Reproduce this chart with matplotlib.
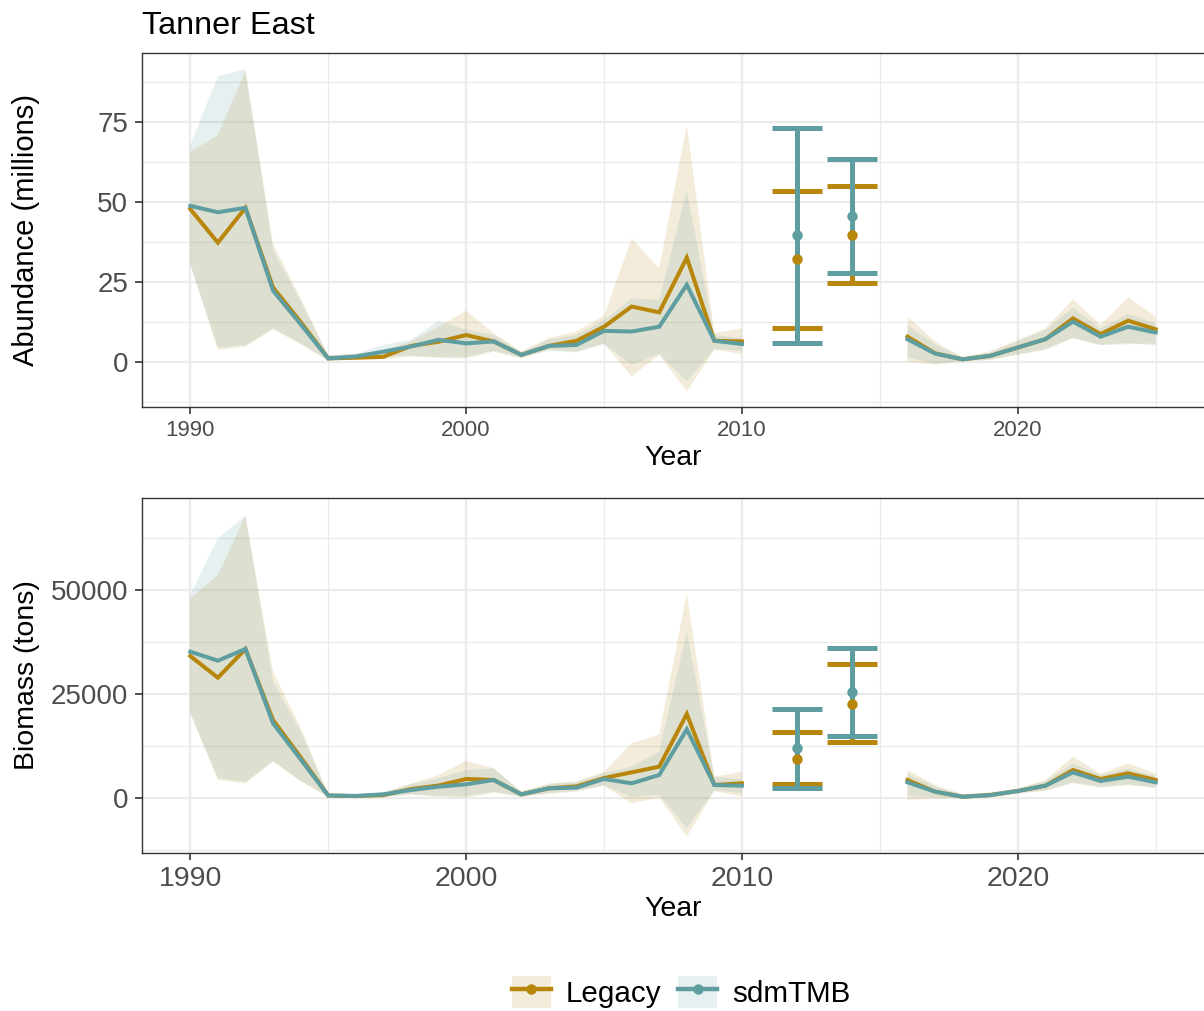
import numpy as np
import matplotlib
matplotlib.use("Agg")
import matplotlib.pyplot as plt
from matplotlib.lines import Line2D
from matplotlib.patches import Patch
from matplotlib.legend_handler import HandlerTuple

plt.rcParams['font.family'] = ['Liberation Sans', 'DejaVu Sans']

nan = np.nan
years = np.arange(1990, 2026)

# ---- Abundance (millions) ----
abund_legacy = [47.8, 37.3, 48.2, 23.3, 12.5, 1.1, 1.3, 1.6, 5.0, 6.3, 8.4, 6.4, 2.2, 5.0, 6.6, 11.0, 17.3, 15.5, 32.6, 6.6, 6.4,
                nan, nan, nan, nan, nan,
                7.9, 2.7, 0.8, 1.9, 4.5, 7.1, 13.6, 8.7, 12.9, 10.2]
abund_legacy_hi = [65.7, 71.0, 91.0, 37.0, 20.0, 2.0, 2.5, 3.5, 6.5, 11.0, 16.0, 9.0, 3.3, 7.5, 9.5, 14.5, 38.6, 29.3, 74.1, 9.0, 10.5,
                   nan, nan, nan, nan, nan,
                   14.2, 6.4, 1.5, 3.3, 6.9, 10.5, 19.6, 11.6, 20.2, 14.2]
abund_legacy_lo = [30.3, 3.8, 4.8, 10.2, 5.5, 0.5, 0.8, 0.8, 1.7, 1.2, 1.1, 3.2, 1.1, 3.8, 3.2, 5.8, -4.6, 2.2, -9.3, 3.8, 2.5,
                   nan, nan, nan, nan, nan,
                   0.1, -0.9, 0.2, 0.6, 2.2, 3.8, 7.4, 5.3, 5.5, 5.8]
abund_sdm = [48.8, 46.8, 48.2, 22.3, 11.8, 1.1, 1.7, 3.2, 4.8, 6.9, 5.8, 6.4, 2.2, 5.0, 5.3, 9.7, 9.5, 11.0, 24.1, 6.6, 5.6,
             nan, nan, nan, nan, nan,
             7.1, 2.6, 0.8, 1.9, 4.5, 7.1, 12.6, 7.9, 11.0, 9.2]
abund_sdm_hi = [67.8, 89.4, 91.5, 35.0, 19.0, 2.0, 2.5, 5.3, 6.9, 12.9, 10.0, 8.5, 3.0, 7.0, 8.5, 13.0, 19.9, 19.4, 53.8, 8.5, 7.5,
                nan, nan, nan, nan, nan,
                11.5, 5.5, 1.4, 3.0, 6.5, 10.0, 17.0, 10.5, 15.0, 12.0]
abund_sdm_lo = [30.5, 4.5, 5.2, 10.5, 5.8, 0.5, 1.0, 1.5, 2.0, 1.5, 1.5, 3.5, 1.3, 3.5, 3.0, 5.5, -0.9, 2.5, -6.1, 4.0, 3.5,
                nan, nan, nan, nan, nan,
                1.5, -0.5, 0.3, 0.7, 2.4, 4.0, 7.5, 5.3, 6.0, 5.0]

eb_years = [2012, 2014]
abund_eb_legacy = [32.1, 39.7]
abund_eb_legacy_lo = [10.5, 24.6]
abund_eb_legacy_hi = [53.5, 55.0]
abund_eb_sdm = [39.6, 45.6]
abund_eb_sdm_lo = [5.8, 27.7]
abund_eb_sdm_hi = [73.3, 63.3]

# ---- Biomass (tons) ----
bio_legacy = [34130, 28920, 35820, 18750, 9800, 600, 450, 700, 2150, 3000, 4570, 4330, 880, 2330, 2800, 4800, 6170, 7530, 20190, 3130, 3530,
              nan, nan, nan, nan, nan,
              4330, 1520, 300, 700, 1680, 2960, 6730, 4570, 5930, 4330]
bio_legacy_hi = [48000, 53600, 67870, 30370, 17000, 900, 800, 1300, 3500, 5500, 8970, 7130, 1600, 3500, 4000, 6300, 13140, 15300, 49200, 5130, 6300,
                 nan, nan, nan, nan, nan,
                 6730, 3130, 900, 1400, 2300, 4330, 9940, 5900, 8330, 5900]
bio_legacy_lo = [20360, 4330, 3530, 8730, 4000, 300, 200, 200, 800, 300, 80, 1280, 300, 1000, 1600, 2900, -1280, 80, -9290, 1690, 300,
                 nan, nan, nan, nan, nan,
                 -400, -200, 0, 200, 1100, 1700, 3530, 2500, 3100, 2500]
bio_sdm = [35170, 33010, 35820, 17950, 9300, 600, 500, 880, 1920, 2720, 3290, 4330, 880, 2330, 2500, 4570, 3530, 5530, 16510, 3130, 2960,
           nan, nan, nan, nan, nan,
           3770, 1520, 300, 700, 1680, 2960, 6170, 4090, 5130, 3770]
bio_sdm_hi = [48800, 62430, 67870, 28000, 16000, 900, 800, 1300, 3300, 4730, 6730, 7130, 1500, 3300, 3800, 6000, 7530, 11140, 40000, 5130, 4500,
              nan, nan, nan, nan, nan,
              5800, 2800, 800, 1300, 2200, 4100, 8300, 5600, 7100, 5300]
bio_sdm_lo = [20500, 4800, 3800, 8900, 4200, 300, 250, 300, 900, 500, 500, 1500, 400, 1200, 1700, 3000, 300, 800, -7290, 1800, 1200,
              nan, nan, nan, nan, nan,
              500, 200, 0, 200, 1100, 1800, 3800, 2700, 3300, 2400]

bio_eb_legacy = [9375, 22680]
bio_eb_legacy_lo = [3290, 13390]
bio_eb_legacy_hi = [15790, 32130]
bio_eb_sdm = [11940, 25400]
bio_eb_sdm_lo = [2320, 14980]
bio_eb_sdm_hi = [21390, 36140]

series_names = ["Legacy", "sdmTMB"]
col_legacy = "#B8860B"
col_sdm = "#5F9EA0"
fill_alpha = 0.15

fig = plt.figure(figsize=(12.04, 10.11), dpi=100)
W, H = 1204, 1011
def axrect(l, t, r, b):
    return [l / W, 1 - b / H, (r - l) / W, (b - t) / H]

ax1 = fig.add_axes(axrect(142, 53, 1204, 407))
ax2 = fig.add_axes(axrect(142, 498, 1204, 853))

def draw_panel(ax, leg, leg_lo, leg_hi, sdm, sdm_lo, sdm_hi,
               ebl, ebl_lo, ebl_hi, ebs, ebs_lo, ebs_hi, major, minor, xtick_fs, ylabel, ylab_fs):
    ax.fill_between(years, np.array(leg_lo, float), np.array(leg_hi, float),
                    color=col_legacy, alpha=fill_alpha, lw=0, zorder=2)
    ax.fill_between(years, np.array(sdm_lo, float), np.array(sdm_hi, float),
                    color=col_sdm, alpha=fill_alpha, lw=0, zorder=2)
    ax.plot(years, leg, color=col_legacy, lw=2.9, zorder=3, solid_joinstyle='miter')
    ax.plot(years, sdm, color=col_sdm, lw=2.9, zorder=4, solid_joinstyle='miter')
    for vals, lo, hi, c, z in [(ebl, ebl_lo, ebl_hi, col_legacy, 5), (ebs, ebs_lo, ebs_hi, col_sdm, 6)]:
        vals = np.array(vals); lo = np.array(lo); hi = np.array(hi)
        ax.errorbar(eb_years, vals, yerr=[vals - lo, hi - vals], fmt='none',
                    ecolor=c, elinewidth=3.6, capsize=18, capthick=3.6, zorder=z)
    ax.plot(eb_years, ebl, 'o', color=col_legacy, ms=7.5, zorder=7, mew=0)
    ax.plot(eb_years, ebs, 'o', color=col_sdm, ms=7.5, zorder=8, mew=0)

    ax.set_xlim(1988.25, 2026.75)
    ax.set_xticks([1990, 2000, 2010, 2020])
    ax.set_xticks([1995, 2005, 2015, 2025], minor=True)
    ax.set_yticks(major)
    ax.set_yticks(minor, minor=True)
    ax.grid(which='major', color='#EBEBEB', lw=1.6, zorder=0)
    ax.grid(which='minor', color='#EBEBEB', lw=0.9, zorder=0)
    ax.set_axisbelow(True)
    for s in ['left', 'top', 'bottom']:
        ax.spines[s].set_color('#333333')
        ax.spines[s].set_linewidth(1.0)
    ax.spines['right'].set_visible(False)
    ax.tick_params(which='major', length=5, width=1.2, color='#333333', labelcolor='#4D4D4D')
    ax.tick_params(which='minor', length=0)
    ax.tick_params(axis='y', labelsize=20, pad=5)
    ax.tick_params(axis='x', labelsize=xtick_fs, pad=4)
    ax.set_xlabel("Year", fontsize=20.5, color='black', labelpad=3)
    ax.set_ylabel(ylabel, fontsize=ylab_fs, color='black')
    ax.yaxis.set_label_coords(-0.096, 0.5)

draw_panel(ax1, abund_legacy, abund_legacy_lo, abund_legacy_hi, abund_sdm, abund_sdm_lo, abund_sdm_hi,
           abund_eb_legacy, abund_eb_legacy_lo, abund_eb_legacy_hi, abund_eb_sdm, abund_eb_sdm_lo, abund_eb_sdm_hi,
           [0, 25, 50, 75], [-12.5, 12.5, 37.5, 62.5, 87.5], 16, "Abundance (millions)", 21)
ax1.set_ylim(-14.1, 96.6)
ax1.set_title("Tanner East", loc='left', fontsize=23.3, pad=14)

draw_panel(ax2, bio_legacy, bio_legacy_lo, bio_legacy_hi, bio_sdm, bio_sdm_lo, bio_sdm_hi,
           bio_eb_legacy, bio_eb_legacy_lo, bio_eb_legacy_hi, bio_eb_sdm, bio_eb_sdm_lo, bio_eb_sdm_hi,
           [0, 25000, 50000], [-12500, 12500, 37500, 62500], 20.5, "Biomass (tons)", 20.5)
ax2.set_ylim(-13220, 72115)

# legend
handles = []
for c in [col_legacy, col_sdm]:
    p = Patch(facecolor=c, alpha=fill_alpha, edgecolor='none')
    l = Line2D([], [], color=c, lw=3.2, marker='o', ms=7.5, mew=0)
    handles.append((p, l))
fig.legend(handles, series_names, loc='center', bbox_to_anchor=(681 / W, 1 - 992 / H), ncol=2,
           frameon=False, fontsize=21.3, handlelength=1.32, handleheight=1.32,
           handletextpad=0.5, columnspacing=0.58, borderaxespad=0, borderpad=0,
           handler_map={tuple: HandlerTuple(ndivide=1, pad=0)})

fig.savefig("out.png", dpi=100)
